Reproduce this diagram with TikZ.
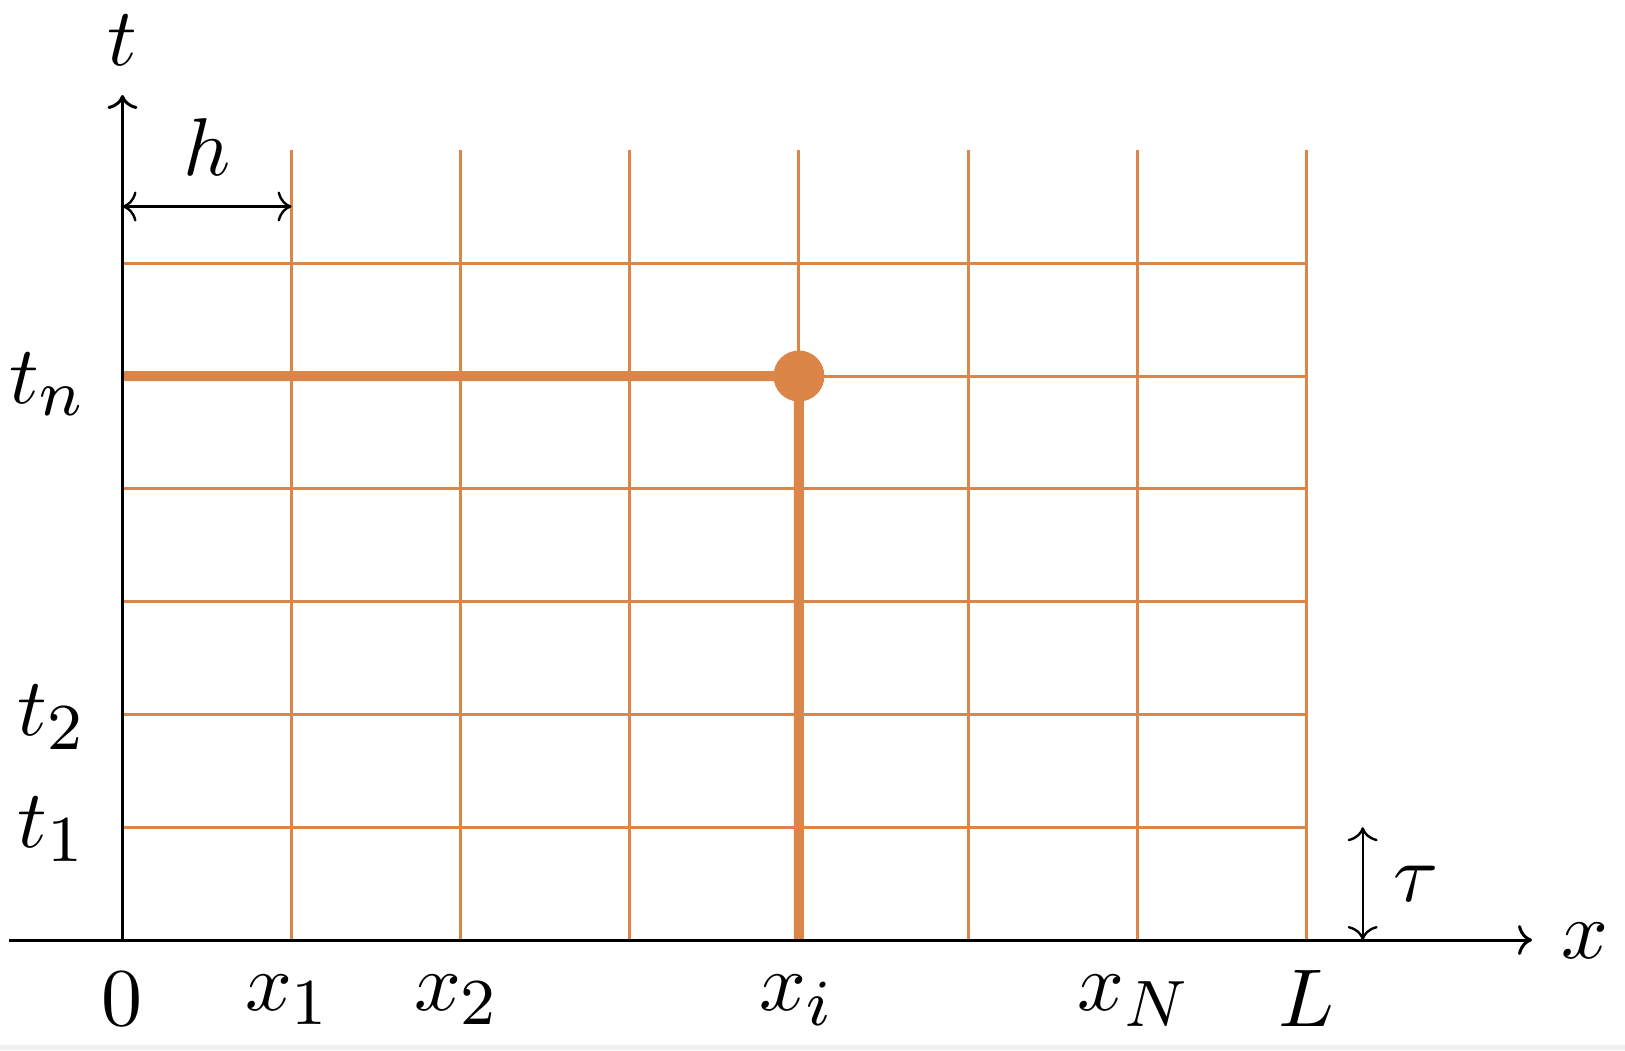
\documentclass[tikz,border=0pt]{standalone}
\DeclareMathSizes{10}{10}{8}{6}
\usetikzlibrary{arrows.meta}
\definecolor{gridorange}{RGB}{220,133,72}
\definecolor{bggray}{RGB}{240,240,240}
\tikzset{
  gridline/.style={draw=gridorange, line width=1.5pt},
  boldline/.style={draw=gridorange, line width=5pt},
  axisline/.style={draw=black, line width=1.5pt, -{Computer Modern Rightarrow[length=7pt,width=15pt]}},
  dimline/.style={draw=black, line width=1.2pt, {Computer Modern Rightarrow[length=7pt,width=15pt]}-{Computer Modern Rightarrow[length=7pt,width=15pt]}},
  lab/.style={scale=4.1, inner sep=0pt, anchor=base},
}
\begin{document}
\begin{tikzpicture}[x=0.5pt,y=-0.5pt]
\useasboundingbox (0,0) rectangle (1625,1050);
\fill[bggray] (0,1045) rectangle (1625,1050);
% grid
\foreach \k in {1,...,7} {
  \coordinate (vt\k) at (122.5+169.1*\k,150);
  \coordinate (vb\k) at (122.5+169.1*\k,940);
  \draw[gridline] (vt\k) -- (vb\k);
}
\foreach \j in {1,...,6} {
  \coordinate (hl\j) at (122.5,940-112.8*\j);
  \coordinate (hr\j) at (1306.2,940-112.8*\j);
  \draw[gridline] (hl\j) -- (hr\j);
}
% highlighted point
\coordinate (P) at (798.9,376.0);
\draw[boldline] (hl5) -- (P);
\draw[boldline] (P) -- (vb4);
\fill[gridorange] (P) circle[radius=25.5];
% axes
\coordinate (xs) at (9,940);
\coordinate (xe) at (1532,940);
\coordinate (O) at (122.5,940);
\coordinate (ye) at (122.5,95);
\draw[axisline] (xs) -- (xe);
\draw[axisline] (O) -- (ye);
% h dimension
\coordinate (ha) at (122.5,206.5);
\coordinate (hb) at (291.6,206.5);
\draw[dimline] (ha) -- (hb);
% tau dimension
\coordinate (ta) at (1362.7,940);
\coordinate (tb) at (1362.7,827.2);
\draw[dimline] (ta) -- (tb);
% labels
\node[lab] (lt) at (122,65) {$t$};
\node[lab] (lh) at (207,175) {$h$};
\node[lab] (ltn) at (48,403) {$t_n$};
\node[lab] (lt2) at (52,735) {$t_2$};
\node[lab] (lt1) at (52,847) {$t_1$};
\node[lab] (l0) at (122,1025) {$0$};
\node[lab] (lx1) at (288,1010) {$x_1$};
\node[lab] (lx2) at (457,1010) {$x_2$};
\node[lab] (lxi) at (797,1010) {$x_i$};
\node[lab] (lxN) at (1134,1010) {$x_N$};
\node[lab] (lL) at (1306,1026.5) {$L$};
\node[lab] (ltau) at (1416,901.5) {$\tau$};
\node[lab] (lx) at (1585,958) {$x$};
\end{tikzpicture}
\end{document}
